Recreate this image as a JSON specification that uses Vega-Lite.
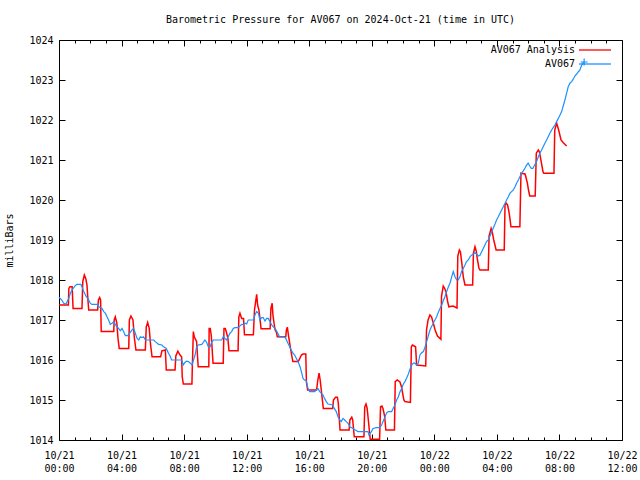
{
  "$schema": "https://vega.github.io/schema/vega-lite/v6.json",
  "width": 563,
  "height": 400,
  "autosize": "none",
  "padding": {"left": 59, "top": 40, "right": 18, "bottom": 40},
  "background": "white",
  "config": {
    "font": "DejaVu Sans Mono",
    "view": {"stroke": "black", "strokeWidth": 1},
    "axis": {"labelFont": "DejaVu Sans Mono", "labelFontSize": 10, "labelColor": "black", "tickColor": "black", "domain": false, "grid": false, "titleFont": "DejaVu Sans Mono", "titleFontSize": 10, "titleFontWeight": "normal", "titleColor": "black"}
  },
  "title": {"text": "Barometric Pressure for AV067 on 2024-Oct-21 (time in UTC)", "font": "DejaVu Sans Mono", "fontSize": 10, "fontWeight": "normal", "anchor": "middle", "offset": 10, "color": "black"},
  "datasets": {
    "analysis": [
      {"hour":0.0,"mbar":1017.375},{"hour":0.6,"mbar":1017.375},{"hour":0.63,"mbar":1017.79},{"hour":0.7,"mbar":1017.83},{"hour":0.84,"mbar":1017.83},{"hour":0.9,"mbar":1017.29},
      {"hour":1.47,"mbar":1017.29},{"hour":1.52,"mbar":1017.96},{"hour":1.62,"mbar":1018.125},{"hour":1.71,"mbar":1018.04},{"hour":1.79,"mbar":1017.875},{"hour":1.85,"mbar":1017.5},{"hour":1.9,"mbar":1017.25},
      {"hour":2.47,"mbar":1017.25},{"hour":2.52,"mbar":1017.5},{"hour":2.6,"mbar":1017.56},{"hour":2.66,"mbar":1017.5},{"hour":2.7,"mbar":1016.71},
      {"hour":3.5,"mbar":1016.71},{"hour":3.53,"mbar":1017.0},{"hour":3.6,"mbar":1017.08},{"hour":3.7,"mbar":1016.92},{"hour":3.77,"mbar":1016.55},{"hour":3.85,"mbar":1016.29},
      {"hour":4.46,"mbar":1016.29},{"hour":4.5,"mbar":1017.0},{"hour":4.6,"mbar":1017.1},{"hour":4.73,"mbar":1017.0},{"hour":4.82,"mbar":1016.55},{"hour":4.92,"mbar":1016.25},
      {"hour":5.52,"mbar":1016.25},{"hour":5.58,"mbar":1016.83},{"hour":5.67,"mbar":1016.94},{"hour":5.77,"mbar":1016.79},{"hour":5.85,"mbar":1016.4},{"hour":5.95,"mbar":1016.08},
      {"hour":6.5,"mbar":1016.08},{"hour":6.58,"mbar":1016.23},{"hour":6.8,"mbar":1016.25},{"hour":6.86,"mbar":1015.75},
      {"hour":7.42,"mbar":1015.75},{"hour":7.47,"mbar":1016.1},{"hour":7.6,"mbar":1016.22},{"hour":7.74,"mbar":1016.125},{"hour":7.84,"mbar":1016.08},{"hour":7.88,"mbar":1015.58},{"hour":7.95,"mbar":1015.4},
      {"hour":8.5,"mbar":1015.4},{"hour":8.52,"mbar":1015.75},{"hour":8.59,"mbar":1016.71},{"hour":8.65,"mbar":1016.58},{"hour":8.8,"mbar":1016.46},{"hour":8.9,"mbar":1015.83},
      {"hour":9.58,"mbar":1015.83},{"hour":9.6,"mbar":1016.79},{"hour":9.67,"mbar":1016.79},{"hour":9.74,"mbar":1016.6},{"hour":9.85,"mbar":1015.92},
      {"hour":10.5,"mbar":1015.92},{"hour":10.55,"mbar":1016.79},{"hour":10.63,"mbar":1016.79},{"hour":10.7,"mbar":1016.7},{"hour":10.8,"mbar":1016.54},{"hour":10.87,"mbar":1016.23},
      {"hour":11.45,"mbar":1016.23},{"hour":11.5,"mbar":1017.08},{"hour":11.57,"mbar":1017.17},{"hour":11.68,"mbar":1017.04},{"hour":11.8,"mbar":1017.04},{"hour":11.86,"mbar":1016.63},
      {"hour":12.43,"mbar":1016.63},{"hour":12.5,"mbar":1017.25},{"hour":12.64,"mbar":1017.64},{"hour":12.7,"mbar":1017.375},{"hour":12.78,"mbar":1017.25},{"hour":12.85,"mbar":1017.04},{"hour":12.92,"mbar":1016.78},
      {"hour":13.5,"mbar":1016.78},{"hour":13.55,"mbar":1017.29},{"hour":13.63,"mbar":1017.42},{"hour":13.68,"mbar":1017.125},{"hour":13.75,"mbar":1016.92},{"hour":13.82,"mbar":1016.75},{"hour":13.9,"mbar":1016.7},{"hour":13.96,"mbar":1016.58},
      {"hour":14.5,"mbar":1016.58},{"hour":14.54,"mbar":1016.75},{"hour":14.6,"mbar":1016.82},{"hour":14.67,"mbar":1016.62},{"hour":14.75,"mbar":1016.42},{"hour":14.82,"mbar":1016.25},{"hour":14.95,"mbar":1015.96},
      {"hour":15.3,"mbar":1015.96},{"hour":15.4,"mbar":1016.04},{"hour":15.5,"mbar":1016.125},{"hour":15.6,"mbar":1016.15},{"hour":15.78,"mbar":1016.15},{"hour":15.82,"mbar":1015.46},{"hour":15.9,"mbar":1015.25},
      {"hour":16.47,"mbar":1015.25},{"hour":16.55,"mbar":1015.5},{"hour":16.63,"mbar":1015.67},{"hour":16.7,"mbar":1015.5},{"hour":16.77,"mbar":1015.25},{"hour":16.9,"mbar":1014.79},
      {"hour":17.5,"mbar":1014.79},{"hour":17.55,"mbar":1015.0},{"hour":17.68,"mbar":1015.07},{"hour":17.8,"mbar":1015.07},{"hour":17.86,"mbar":1014.92},{"hour":17.97,"mbar":1014.25},
      {"hour":18.55,"mbar":1014.25},{"hour":18.6,"mbar":1014.5},{"hour":18.72,"mbar":1014.57},{"hour":18.78,"mbar":1014.5},{"hour":18.88,"mbar":1014.08},
      {"hour":19.5,"mbar":1014.08},{"hour":19.55,"mbar":1014.83},{"hour":19.63,"mbar":1014.9},{"hour":19.7,"mbar":1014.8},{"hour":19.78,"mbar":1014.5},{"hour":19.9,"mbar":1014.02},
      {"hour":20.5,"mbar":1014.02},{"hour":20.56,"mbar":1014.83},{"hour":20.65,"mbar":1014.85},{"hour":20.72,"mbar":1014.78},{"hour":20.82,"mbar":1014.6},{"hour":20.9,"mbar":1014.25},
      {"hour":21.45,"mbar":1014.25},{"hour":21.5,"mbar":1015.46},{"hour":21.63,"mbar":1015.5},{"hour":21.8,"mbar":1015.45},{"hour":21.9,"mbar":1015.33},{"hour":22.05,"mbar":1015.0},{"hour":22.12,"mbar":1014.96},
      {"hour":22.47,"mbar":1014.94},{"hour":22.53,"mbar":1016.33},{"hour":22.6,"mbar":1016.375},{"hour":22.8,"mbar":1016.33},{"hour":22.87,"mbar":1015.875},
      {"hour":23.45,"mbar":1015.85},{"hour":23.5,"mbar":1016.75},{"hour":23.6,"mbar":1017.0},{"hour":23.72,"mbar":1017.125},{"hour":23.82,"mbar":1017.08},{"hour":23.95,"mbar":1016.9},{"hour":24.05,"mbar":1016.75},{"hour":24.2,"mbar":1016.6},{"hour":24.42,"mbar":1016.52},
      {"hour":24.46,"mbar":1017.6},{"hour":24.57,"mbar":1017.85},{"hour":24.65,"mbar":1017.8},{"hour":24.75,"mbar":1017.7},{"hour":24.85,"mbar":1017.46},{"hour":24.93,"mbar":1017.33},{"hour":25.2,"mbar":1017.35},{"hour":25.45,"mbar":1017.3},
      {"hour":25.5,"mbar":1018.6},{"hour":25.6,"mbar":1018.75},{"hour":25.67,"mbar":1018.7},{"hour":25.75,"mbar":1018.45},{"hour":25.85,"mbar":1018.08},{"hour":25.96,"mbar":1017.875},
      {"hour":26.45,"mbar":1017.875},{"hour":26.5,"mbar":1018.67},{"hour":26.6,"mbar":1018.83},{"hour":26.68,"mbar":1018.72},{"hour":26.76,"mbar":1018.5},{"hour":26.85,"mbar":1018.3},{"hour":26.92,"mbar":1018.25},
      {"hour":27.45,"mbar":1018.25},{"hour":27.5,"mbar":1019.1},{"hour":27.63,"mbar":1019.29},{"hour":27.7,"mbar":1019.2},{"hour":27.8,"mbar":1019.0},{"hour":27.95,"mbar":1018.75},
      {"hour":28.47,"mbar":1018.75},{"hour":28.52,"mbar":1019.875},{"hour":28.6,"mbar":1019.92},{"hour":28.68,"mbar":1019.88},{"hour":28.75,"mbar":1019.75},{"hour":28.82,"mbar":1019.58},{"hour":28.9,"mbar":1019.33},
      {"hour":29.47,"mbar":1019.33},{"hour":29.54,"mbar":1020.67},{"hour":29.8,"mbar":1020.65},{"hour":29.85,"mbar":1020.58},{"hour":29.95,"mbar":1020.42},{"hour":30.02,"mbar":1020.25},{"hour":30.1,"mbar":1020.1},
      {"hour":30.45,"mbar":1020.1},{"hour":30.52,"mbar":1021.17},{"hour":30.65,"mbar":1021.25},{"hour":30.72,"mbar":1021.2},{"hour":30.85,"mbar":1020.92},{"hour":30.95,"mbar":1020.7},{"hour":31.0,"mbar":1020.67},
      {"hour":31.65,"mbar":1020.67},{"hour":31.7,"mbar":1021.75},{"hour":31.82,"mbar":1021.92},{"hour":31.9,"mbar":1021.82},{"hour":31.98,"mbar":1021.7},{"hour":32.1,"mbar":1021.5},{"hour":32.25,"mbar":1021.43},{"hour":32.46,"mbar":1021.35}
    ],
    "observed": [
      {"hour":0,"mbar":1017.57},{"hour":0.18,"mbar":1017.5},{"hour":0.3,"mbar":1017.42},{"hour":0.45,"mbar":1017.4},{"hour":0.62,"mbar":1017.54},{"hour":0.73,"mbar":1017.67},{"hour":0.83,"mbar":1017.75},{"hour":1.04,"mbar":1017.86},{"hour":1.15,"mbar":1017.89},{"hour":1.4,"mbar":1017.89},{"hour":1.47,"mbar":1017.83},{"hour":1.58,"mbar":1017.71},{"hour":1.75,"mbar":1017.58},{"hour":1.85,"mbar":1017.54},{"hour":2.0,"mbar":1017.42},{"hour":2.1,"mbar":1017.39},{"hour":2.47,"mbar":1017.39},{"hour":2.54,"mbar":1017.33},{"hour":2.75,"mbar":1017.29},{"hour":2.86,"mbar":1017.21},{"hour":2.96,"mbar":1017.17},{"hour":3.07,"mbar":1017.08},{"hour":3.17,"mbar":1017.0},{"hour":3.28,"mbar":1016.89},{"hour":3.39,"mbar":1016.92},{"hour":3.5,"mbar":1016.96},{"hour":3.6,"mbar":1016.89},{"hour":3.7,"mbar":1016.83},{"hour":3.81,"mbar":1016.79},{"hour":3.92,"mbar":1016.73},{"hour":4.03,"mbar":1016.79},{"hour":4.13,"mbar":1016.71},{"hour":4.24,"mbar":1016.61},{"hour":4.39,"mbar":1016.61},{"hour":4.52,"mbar":1016.67},{"hour":4.67,"mbar":1016.75},{"hour":4.77,"mbar":1016.79},{"hour":4.88,"mbar":1016.67},{"hour":4.99,"mbar":1016.54},{"hour":5.1,"mbar":1016.5},{"hour":5.2,"mbar":1016.58},{"hour":5.31,"mbar":1016.56},{"hour":5.41,"mbar":1016.58},{"hour":5.52,"mbar":1016.5},{"hour":6.06,"mbar":1016.5},{"hour":6.16,"mbar":1016.46},{"hour":6.37,"mbar":1016.39},{"hour":6.58,"mbar":1016.375},{"hour":6.69,"mbar":1016.33},{"hour":6.86,"mbar":1016.29},{"hour":7.0,"mbar":1016.17},{"hour":7.1,"mbar":1016.1},{"hour":7.2,"mbar":1016.0},{"hour":7.84,"mbar":1016.0},{"hour":7.95,"mbar":1015.88},{"hour":8.05,"mbar":1015.94},{"hour":8.15,"mbar":1015.97},{"hour":8.27,"mbar":1015.96},{"hour":8.4,"mbar":1015.92},{"hour":8.5,"mbar":1015.875},{"hour":8.6,"mbar":1016.0},{"hour":8.7,"mbar":1016.125},{"hour":8.8,"mbar":1016.33},{"hour":8.9,"mbar":1016.375},{"hour":9.13,"mbar":1016.39},{"hour":9.23,"mbar":1016.44},{"hour":9.33,"mbar":1016.5},{"hour":9.44,"mbar":1016.44},{"hour":9.55,"mbar":1016.33},{"hour":9.66,"mbar":1016.33},{"hour":9.76,"mbar":1016.44},{"hour":9.87,"mbar":1016.5},{"hour":10.4,"mbar":1016.5},{"hour":10.5,"mbar":1016.58},{"hour":10.61,"mbar":1016.54},{"hour":10.72,"mbar":1016.5},{"hour":10.82,"mbar":1016.58},{"hour":10.93,"mbar":1016.67},{"hour":11.04,"mbar":1016.71},{"hour":11.14,"mbar":1016.79},{"hour":11.25,"mbar":1016.81},{"hour":11.46,"mbar":1016.81},{"hour":11.68,"mbar":1016.89},{"hour":11.78,"mbar":1016.89},{"hour":11.9,"mbar":1016.92},{"hour":12.0,"mbar":1016.9},{"hour":12.1,"mbar":1017.0},{"hour":12.43,"mbar":1017.0},{"hour":12.53,"mbar":1017.125},{"hour":12.64,"mbar":1017.21},{"hour":12.75,"mbar":1017.17},{"hour":12.85,"mbar":1017.0},{"hour":12.96,"mbar":1017.06},{"hour":13.06,"mbar":1017.06},{"hour":13.17,"mbar":1016.975},{"hour":13.28,"mbar":1017.04},{"hour":13.38,"mbar":1017.04},{"hour":13.49,"mbar":1016.96},{"hour":13.6,"mbar":1016.875},{"hour":13.7,"mbar":1016.83},{"hour":13.81,"mbar":1016.79},{"hour":13.95,"mbar":1016.7},{"hour":14.1,"mbar":1016.58},{"hour":14.4,"mbar":1016.58},{"hour":14.5,"mbar":1016.54},{"hour":14.64,"mbar":1016.42},{"hour":14.75,"mbar":1016.33},{"hour":14.85,"mbar":1016.25},{"hour":14.96,"mbar":1016.17},{"hour":15.07,"mbar":1016.125},{"hour":15.18,"mbar":1016.04},{"hour":15.28,"mbar":1015.96},{"hour":15.4,"mbar":1015.85},{"hour":15.5,"mbar":1015.71},{"hour":15.6,"mbar":1015.54},{"hour":15.7,"mbar":1015.5},{"hour":15.81,"mbar":1015.48},{"hour":15.92,"mbar":1015.29},{"hour":16.03,"mbar":1015.21},{"hour":16.35,"mbar":1015.21},{"hour":16.45,"mbar":1015.25},{"hour":16.56,"mbar":1015.29},{"hour":16.67,"mbar":1015.21},{"hour":16.77,"mbar":1015.17},{"hour":16.88,"mbar":1015.125},{"hour":16.98,"mbar":1015.04},{"hour":17.09,"mbar":1014.96},{"hour":17.2,"mbar":1014.9},{"hour":17.5,"mbar":1014.875},{"hour":17.6,"mbar":1014.79},{"hour":17.73,"mbar":1014.71},{"hour":17.84,"mbar":1014.58},{"hour":17.95,"mbar":1014.5},{"hour":18.05,"mbar":1014.46},{"hour":18.16,"mbar":1014.54},{"hour":18.27,"mbar":1014.5},{"hour":18.37,"mbar":1014.46},{"hour":18.48,"mbar":1014.42},{"hour":18.6,"mbar":1014.33},{"hour":18.8,"mbar":1014.29},{"hour":18.95,"mbar":1014.25},{"hour":19.12,"mbar":1014.21},{"hour":19.76,"mbar":1014.21},{"hour":19.82,"mbar":1014.125},{"hour":19.9,"mbar":1014.17},{"hour":19.98,"mbar":1014.21},{"hour":20.08,"mbar":1014.29},{"hour":20.3,"mbar":1014.31},{"hour":20.5,"mbar":1014.31},{"hour":20.63,"mbar":1014.375},{"hour":20.74,"mbar":1014.48},{"hour":20.85,"mbar":1014.58},{"hour":20.95,"mbar":1014.68},{"hour":21.06,"mbar":1014.71},{"hour":21.27,"mbar":1014.71},{"hour":21.38,"mbar":1014.8},{"hour":21.48,"mbar":1014.875},{"hour":21.59,"mbar":1015.0},{"hour":21.7,"mbar":1015.08},{"hour":21.8,"mbar":1015.2},{"hour":21.91,"mbar":1015.29},{"hour":22.02,"mbar":1015.4},{"hour":22.12,"mbar":1015.46},{"hour":22.23,"mbar":1015.55},{"hour":22.34,"mbar":1015.65},{"hour":22.44,"mbar":1015.77},{"hour":22.55,"mbar":1015.875},{"hour":22.66,"mbar":1015.92},{"hour":22.76,"mbar":1015.92},{"hour":22.87,"mbar":1015.88},{"hour":22.97,"mbar":1015.92},{"hour":23.08,"mbar":1016.125},{"hour":23.19,"mbar":1016.18},{"hour":23.3,"mbar":1016.21},{"hour":23.4,"mbar":1016.32},{"hour":23.51,"mbar":1016.46},{"hour":23.61,"mbar":1016.6},{"hour":23.72,"mbar":1016.75},{"hour":23.82,"mbar":1016.83},{"hour":23.93,"mbar":1016.92},{"hour":24.04,"mbar":1017.0},{"hour":24.15,"mbar":1017.08},{"hour":24.25,"mbar":1017.19},{"hour":24.36,"mbar":1017.29},{"hour":24.47,"mbar":1017.375},{"hour":24.57,"mbar":1017.48},{"hour":24.68,"mbar":1017.58},{"hour":24.79,"mbar":1017.71},{"hour":24.9,"mbar":1017.83},{"hour":25.0,"mbar":1017.92},{"hour":25.11,"mbar":1018.08},{"hour":25.21,"mbar":1018.21},{"hour":25.32,"mbar":1018.08},{"hour":25.43,"mbar":1018.0},{"hour":25.53,"mbar":1018.0},{"hour":25.64,"mbar":1018.08},{"hour":25.74,"mbar":1018.21},{"hour":25.85,"mbar":1018.29},{"hour":25.96,"mbar":1018.375},{"hour":26.06,"mbar":1018.46},{"hour":26.17,"mbar":1018.5},{"hour":26.28,"mbar":1018.58},{"hour":26.38,"mbar":1018.62},{"hour":26.49,"mbar":1018.65},{"hour":26.6,"mbar":1018.68},{"hour":26.7,"mbar":1018.65},{"hour":26.81,"mbar":1018.6},{"hour":26.92,"mbar":1018.62},{"hour":27.02,"mbar":1018.7},{"hour":27.13,"mbar":1018.79},{"hour":27.24,"mbar":1018.88},{"hour":27.34,"mbar":1018.96},{"hour":27.45,"mbar":1019.0},{"hour":27.56,"mbar":1019.1},{"hour":27.66,"mbar":1019.2},{"hour":27.77,"mbar":1019.3},{"hour":27.88,"mbar":1019.4},{"hour":27.98,"mbar":1019.5},{"hour":28.09,"mbar":1019.58},{"hour":28.2,"mbar":1019.67},{"hour":28.3,"mbar":1019.75},{"hour":28.41,"mbar":1019.83},{"hour":28.52,"mbar":1019.92},{"hour":28.62,"mbar":1020.0},{"hour":28.73,"mbar":1020.08},{"hour":28.84,"mbar":1020.17},{"hour":28.94,"mbar":1020.21},{"hour":29.05,"mbar":1020.25},{"hour":29.16,"mbar":1020.33},{"hour":29.26,"mbar":1020.42},{"hour":29.37,"mbar":1020.5},{"hour":29.47,"mbar":1020.58},{"hour":29.58,"mbar":1020.67},{"hour":29.69,"mbar":1020.73},{"hour":29.8,"mbar":1020.8},{"hour":29.9,"mbar":1020.87},{"hour":30.0,"mbar":1020.92},{"hour":30.1,"mbar":1020.85},{"hour":30.2,"mbar":1020.79},{"hour":30.3,"mbar":1020.79},{"hour":30.4,"mbar":1020.87},{"hour":30.54,"mbar":1020.96},{"hour":30.65,"mbar":1021.08},{"hour":30.75,"mbar":1021.17},{"hour":30.86,"mbar":1021.25},{"hour":30.96,"mbar":1021.33},{"hour":31.07,"mbar":1021.42},{"hour":31.18,"mbar":1021.5},{"hour":31.28,"mbar":1021.58},{"hour":31.39,"mbar":1021.67},{"hour":31.5,"mbar":1021.75},{"hour":31.6,"mbar":1021.81},{"hour":31.71,"mbar":1021.875},{"hour":31.82,"mbar":1021.96},{"hour":31.93,"mbar":1022.04},{"hour":32.03,"mbar":1022.12},{"hour":32.14,"mbar":1022.21},{"hour":32.24,"mbar":1022.35},{"hour":32.35,"mbar":1022.5},{"hour":32.46,"mbar":1022.67},{"hour":32.56,"mbar":1022.83},{"hour":32.67,"mbar":1022.92},{"hour":32.78,"mbar":1022.96},{"hour":32.88,"mbar":1023.02},{"hour":32.99,"mbar":1023.1},{"hour":33.1,"mbar":1023.15},{"hour":33.2,"mbar":1023.2},{"hour":33.31,"mbar":1023.25},{"hour":33.4,"mbar":1023.35},{"hour":33.5,"mbar":1023.42},{"hour":33.58,"mbar":1023.45}
    ]
  },
  "resolve": {"axis": {"x": "independent", "y": "independent"}},
  "layer": [
    {
      "data": {"name": "analysis"},
      "mark": {"type": "line", "strokeWidth": 1.5, "interpolate": "linear"},
      "encoding": {
        "x": {"field": "hour", "type": "quantitative", "scale": {"domain": [0, 36], "nice": false, "zero": false},
          "axis": {"orient": "bottom", "title": null, "values": [0,1,2,3,4,5,6,7,8,9,10,11,12,13,14,15,16,17,18,19,20,21,22,23,24,25,26,27,28,29,30,31,32,33,34,35,36],
            "tickSize": {"condition": {"test": "datum.value % 4 === 0", "value": -6}, "value": -3},
            "labelExpr": "datum.value % 4 === 0 ? [(datum.value < 24 ? '10/21' : '10/22'), ((datum.value % 24) < 10 ? '0' : '') + (datum.value % 24) + ':00'] : ''",
            "labelPadding": 16, "labelLineHeight": 13, "labelOverlap": false, "labelBound": false, "labelFlush": false, "labelAlign": "center", "labelBaseline": "top"}},
        "y": {"field": "mbar", "type": "quantitative", "scale": {"domain": [1014, 1024], "nice": false, "zero": false},
          "axis": {"orient": "left", "title": "milliBars", "values": [1014,1015,1016,1017,1018,1019,1020,1021,1022,1023,1024], "format": "d", "tickSize": -6, "labelPadding": 12, "titlePadding": 14}},
        "color": {"datum": "AV067 Analysis", "type": "nominal",
          "scale": {"domain": ["AV067 Analysis", "AV067"], "range": ["#ff0000", "#1e90ff"]},
          "legend": {"orient": "none", "legendX": 531, "legendY": 5, "title": null, "symbolType": "M-4,0H4", "symbolSize": 64, "symbolStrokeWidth": 1.3, "labelAlign": "right", "labelOffset": -25, "labelFont": "DejaVu Sans Mono", "labelFontSize": 10, "labelColor": "black", "rowPadding": 4, "padding": 0, "symbolOffset": 0}}
      }
    },
    {
      "data": {"name": "observed"},
      "mark": {"type": "line", "strokeWidth": 1.2, "interpolate": "linear"},
      "encoding": {
        "x": {"field": "hour", "type": "quantitative",
          "axis": {"orient": "top", "title": null, "values": [0,1,2,3,4,5,6,7,8,9,10,11,12,13,14,15,16,17,18,19,20,21,22,23,24,25,26,27,28,29,30,31,32,33,34,35,36],
            "tickSize": {"condition": {"test": "datum.value % 4 === 0", "value": -6}, "value": -3}, "labels": false}},
        "y": {"field": "mbar", "type": "quantitative",
          "axis": {"orient": "right", "title": null, "values": [1014,1015,1016,1017,1018,1019,1020,1021,1022,1023,1024], "tickSize": -6, "labels": false}},
        "color": {"datum": "AV067", "type": "nominal"}
      }
    },
    {
      "data": {"name": "observed"},
      "transform": [{"filter": "datum.hour === 33.58"}],
      "mark": {"type": "point", "shape": "M-1,0H1M0,-1V1", "size": 49, "filled": false, "strokeWidth": 1.2, "color": "#1e90ff", "opacity": 1},
      "encoding": {
        "x": {"field": "hour", "type": "quantitative", "axis": null},
        "y": {"field": "mbar", "type": "quantitative", "axis": null}
      }
    }
  ]
}
